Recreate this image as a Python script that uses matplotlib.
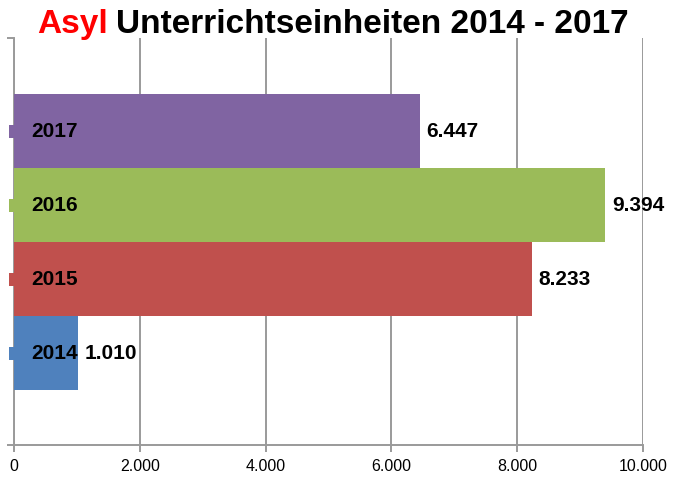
"""Asyl Unterrichtseinheiten 2014 - 2017, horizontal bar chart."""

import matplotlib
matplotlib.use("Agg")
import matplotlib.pyplot as plt
from matplotlib.patches import Rectangle
import matplotlib.transforms as mtransforms

# Data
years = ["2014", "2015", "2016", "2017"]
hours = [1010, 8233, 9394, 6447]
value_labels = ["1.010", "8.233", "9.394", "6.447"]
x_ticks = [0, 2000, 4000, 6000, 8000, 10000]
x_tick_labels = ["0", "2.000", "4.000", "6.000", "8.000", "10.000"]

# Excel 2007 default palette
COLORS = ["#4F81BD", "#C0504D", "#9BBB59", "#8064A2"]
GRID = "#9a9a9a"

plt.rcParams["font.family"] = ["Liberation Sans", "DejaVu Sans"]

fig = plt.figure(figsize=(6.82, 4.78), dpi=100)
ax = fig.add_axes([14 / 682, 1 - 445 / 478, (643 - 14) / 682, (445 - 38) / 478])

ypos = list(range(len(years)))
ax.barh(ypos, hours, height=1.0, color=COLORS, zorder=3)

# axis limits: leave room above and below the bar block like the original
ax.set_xlim(0, 10000)
ax.set_ylim(-1.24, 4.26)

# vertical gridlines
ax.set_xticks(x_ticks)
ax.set_xticklabels(x_tick_labels, fontsize=11.5)
ax.xaxis.grid(True, color=GRID, linewidth=1.4, zorder=0)
ax.tick_params(axis="x", direction="out", length=5, width=1.4, color=GRID, pad=5)

# y axis: only ticks at the top and bottom edges, no labels
ax.set_yticks([-1.24, 4.26])
ax.set_yticklabels([])
ax.tick_params(axis="y", direction="out", length=5, width=1.4, color=GRID)

for side in ["top", "right"]:
    ax.spines[side].set_visible(False)
for side in ["left", "bottom"]:
    ax.spines[side].set_color(GRID)
    ax.spines[side].set_linewidth(1.4)

# value labels right of each bar
for y, v, lab in zip(ypos, hours, value_labels):
    ax.annotate(lab, (v, y), xytext=(5, 0), textcoords="offset points",
                ha="left", va="center", fontsize=15, fontweight="bold", zorder=5)

# legend-like keys and year labels at the left edge
trans = mtransforms.blended_transform_factory(fig.transFigure, ax.transData)
for y, yr, c in zip(ypos, years, COLORS):
    ax.add_patch(Rectangle((9 / 682, y - 0.09), 9 / 682, 0.18, transform=trans,
                           facecolor=c, edgecolor="none", clip_on=False, zorder=4))
    ax.text(31 / 682, y, yr, transform=trans, ha="left", va="center",
            fontsize=15, fontweight="bold", zorder=5)

# two-colour title
t1 = fig.text(0.055, 0.948, "Asyl", color="#FF0000", fontsize=24, fontweight="bold",
              ha="left", va="center")
fig.canvas.draw()
bb = t1.get_window_extent()
fig.text((bb.x1 + 8) / fig.bbox.width, 0.948, "Unterrichtseinheiten 2014 - 2017",
         color="black", fontsize=24, fontweight="bold", ha="left", va="center")

fig.savefig("out.png", dpi=100)
